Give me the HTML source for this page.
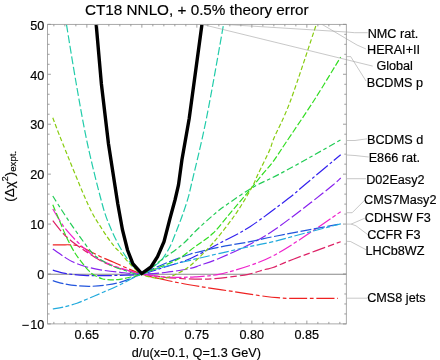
<!DOCTYPE html>
<html><head><meta charset="utf-8"><style>html,body{margin:0;padding:0;background:#fff;}body{width:440px;height:360px;position:relative;overflow:hidden;font-family:"Liberation Sans",sans-serif;}</style></head><body><svg width="440" height="360" viewBox="0 0 440 360" style="position:absolute;left:0;top:0;will-change:transform;opacity:0.999">
<defs><clipPath id="cp"><rect x="47.60" y="24.35" width="298.70" height="299.55"/></clipPath></defs>
<line x1="47.60" y1="274.15" x2="346.30" y2="274.15" stroke="#888" stroke-width="1.05"/>
<g clip-path="url(#cp)" fill="none" stroke-linecap="butt" stroke-linejoin="round">
<path d="M52.80,244.80 C54.33,244.80 59.08,244.80 62.00,244.80 C64.92,244.80 68.13,244.73 70.30,244.80 C72.47,244.87 73.33,244.95 75.00,245.20 C76.67,245.45 77.75,245.25 80.30,246.30 C82.85,247.35 86.68,249.67 90.30,251.50 C93.92,253.33 98.10,255.50 102.00,257.30 C105.90,259.10 107.08,259.52 113.70,262.30 C120.32,265.08 132.32,270.88 141.70,274.00 C151.08,277.12 160.28,278.92 170.00,281.00 C179.72,283.08 189.50,284.75 200.00,286.50 C210.50,288.25 222.00,289.83 233.00,291.50 C244.00,293.17 258.17,295.43 266.00,296.50 C273.83,297.57 276.50,297.60 280.00,297.90 C283.50,298.20 283.67,298.22 287.00,298.30 C290.33,298.38 291.50,298.38 300.00,298.40 C308.50,298.42 331.67,298.40 338.00,298.40" stroke="#ee2222" stroke-width="1.2" stroke-dasharray="18 2.7 3.8 2.7"/>
<path d="M52.80,220.70 C54.62,222.92 59.95,230.12 63.70,234.00 C67.45,237.88 71.13,240.80 75.30,244.00 C79.47,247.20 83.97,250.15 88.70,253.20 C93.43,256.25 98.48,259.75 103.70,262.30 C108.92,264.85 113.67,266.55 120.00,268.50 C126.33,270.45 135.03,272.63 141.70,274.00 C148.37,275.37 153.62,275.95 160.00,276.70 C166.38,277.45 173.33,278.08 180.00,278.50 C186.67,278.92 194.17,279.18 200.00,279.20 C205.83,279.22 210.00,278.97 215.00,278.60 C220.00,278.23 224.45,277.72 230.00,277.00 C235.55,276.28 242.47,275.55 248.30,274.30 C254.13,273.05 260.88,270.63 265.00,269.50 C269.12,268.37 268.28,269.22 273.00,267.50 C277.72,265.78 282.02,263.50 293.30,259.20 C304.58,254.90 332.80,244.62 340.70,241.70" stroke="#dd2266" stroke-width="1.2" stroke-dasharray="13 3 6.6 3"/>
<path d="M52.80,209.00 C54.62,211.92 59.95,221.37 63.70,226.50 C67.45,231.63 71.42,235.77 75.30,239.80 C79.18,243.83 83.38,247.63 87.00,250.70 C90.62,253.77 93.95,256.27 97.00,258.20 C100.05,260.13 101.47,260.67 105.30,262.30 C109.13,263.93 113.93,266.05 120.00,268.00 C126.07,269.95 135.03,272.58 141.70,274.00 C148.37,275.42 154.12,275.95 160.00,276.50 C165.88,277.05 171.17,277.25 177.00,277.30 C182.83,277.35 188.03,277.30 195.00,276.80 C201.97,276.30 209.63,276.18 218.80,274.30 C227.97,272.42 240.97,268.58 250.00,265.50 C259.03,262.42 264.67,260.13 273.00,255.80 C281.33,251.47 288.72,246.85 300.00,239.50 C311.28,232.15 333.92,216.33 340.70,211.70" stroke="#ee22cc" stroke-width="1.2" stroke-dasharray="14.5 2.5 3.8 2.5"/>
<path d="M52.80,249.00 C54.62,250.25 60.50,254.42 63.70,256.50 C66.90,258.58 68.40,259.83 72.00,261.50 C75.60,263.17 80.58,265.12 85.30,266.50 C90.02,267.88 94.52,268.83 100.30,269.80 C106.08,270.77 113.10,271.60 120.00,272.30 C126.90,273.00 134.20,273.97 141.70,274.00 C149.20,274.03 156.95,273.42 165.00,272.50 C173.05,271.58 184.17,269.70 190.00,268.50 C195.83,267.30 195.00,267.05 200.00,265.30 C205.00,263.55 211.67,261.52 220.00,258.00 C228.33,254.48 241.17,248.73 250.00,244.20 C258.83,239.67 264.67,236.33 273.00,230.80 C281.33,225.27 293.13,216.13 300.00,211.00 C306.87,205.87 308.70,204.33 314.20,200.00 C319.70,195.67 328.58,188.67 333.00,185.00 C337.42,181.33 339.42,179.17 340.70,178.00" stroke="#8822ee" stroke-width="1.2" stroke-dasharray="11.5 2.8"/>
<path d="M52.80,270.20 C54.62,270.70 60.50,272.52 63.70,273.20 C66.90,273.88 68.67,273.95 72.00,274.30 C75.33,274.65 79.53,275.07 83.70,275.30 C87.87,275.53 90.95,275.70 97.00,275.70 C103.05,275.70 112.55,275.58 120.00,275.30 C127.45,275.02 134.20,275.38 141.70,274.00 C149.20,272.62 156.95,269.55 165.00,267.00 C173.05,264.45 180.83,262.70 190.00,258.70 C199.17,254.70 210.00,248.33 220.00,243.00 C230.00,237.67 238.62,234.10 250.00,226.70 C261.38,219.30 279.22,205.55 288.30,198.60 C297.38,191.65 295.77,192.32 304.50,185.00 C313.23,177.68 334.67,159.75 340.70,154.70" stroke="#3322ee" stroke-width="1.2" stroke-dasharray="14.5 2.5 3 2.5"/>
<path d="M52.80,280.70 C54.62,281.20 59.67,282.87 63.70,283.70 C67.73,284.53 72.57,285.27 77.00,285.70 C81.43,286.13 85.85,286.37 90.30,286.30 C94.75,286.23 98.75,285.97 103.70,285.30 C108.65,284.63 113.67,284.18 120.00,282.30 C126.33,280.42 134.20,277.13 141.70,274.00 C149.20,270.87 156.95,266.80 165.00,263.50 C173.05,260.20 184.17,256.17 190.00,254.20 C195.83,252.23 195.00,252.90 200.00,251.70 C205.00,250.50 211.67,248.67 220.00,247.00 C228.33,245.33 241.17,243.42 250.00,241.70 C258.83,239.98 264.67,238.40 273.00,236.70 C281.33,235.00 288.72,233.65 300.00,231.50 C311.28,229.35 333.92,225.08 340.70,223.80" stroke="#2255dd" stroke-width="1.2" stroke-dasharray="11 2.5"/>
<path d="M52.80,309.00 C54.62,308.67 59.67,307.97 63.70,307.00 C67.73,306.03 72.57,304.75 77.00,303.20 C81.43,301.65 85.85,299.57 90.30,297.70 C94.75,295.83 98.75,294.15 103.70,292.00 C108.65,289.85 113.67,287.80 120.00,284.80 C126.33,281.80 134.20,277.05 141.70,274.00 C149.20,270.95 156.95,268.78 165.00,266.50 C173.05,264.22 184.17,261.72 190.00,260.30 C195.83,258.88 195.00,259.17 200.00,258.00 C205.00,256.83 211.67,255.22 220.00,253.30 C228.33,251.38 241.17,248.43 250.00,246.50 C258.83,244.57 264.67,243.70 273.00,241.70 C281.33,239.70 288.72,237.48 300.00,234.50 C311.28,231.52 333.92,225.58 340.70,223.80" stroke="#22aadd" stroke-width="1.2" stroke-dasharray="10.5 2.5 4 2.5"/>
<path d="M66.50,24.70 C68.13,34.58 72.80,64.12 76.30,84.00 C79.80,103.88 83.18,124.00 87.50,144.00 C91.82,164.00 98.40,190.12 102.20,204.00 C106.00,217.88 107.33,220.08 110.30,227.30 C113.27,234.52 117.00,241.85 120.00,247.30 C123.00,252.75 125.80,256.47 128.30,260.00 C130.80,263.53 132.77,266.17 135.00,268.50 C137.23,270.83 139.20,273.92 141.70,274.00 C144.20,274.08 147.62,270.53 150.00,269.00 C152.38,267.47 154.05,266.30 156.00,264.80 C157.95,263.30 159.95,262.00 161.70,260.00 C163.45,258.00 164.98,255.30 166.50,252.80 C168.02,250.30 168.97,249.08 170.80,245.00 C172.63,240.92 175.55,233.30 177.50,228.30 C179.45,223.30 180.83,219.72 182.50,215.00 C184.17,210.28 186.04,205.00 187.50,200.00 C188.96,195.00 188.10,198.57 191.25,185.00 C194.40,171.43 201.01,145.40 206.40,118.60 C211.79,91.80 220.73,39.93 223.60,24.20" stroke="#22ccaa" stroke-width="1.2" stroke-dasharray="8 2.7"/>
<path d="M52.80,196.00 C53.63,197.33 55.15,199.88 57.80,204.00 C60.45,208.12 64.95,215.15 68.70,220.70 C72.45,226.25 76.70,232.30 80.30,237.30 C83.90,242.30 87.52,247.37 90.30,250.70 C93.08,254.03 93.72,254.92 97.00,257.30 C100.28,259.68 105.33,262.80 110.00,265.00 C114.67,267.20 119.72,269.00 125.00,270.50 C130.28,272.00 135.87,275.58 141.70,274.00 C147.53,272.42 153.33,265.83 160.00,261.00 C166.67,256.17 175.58,250.17 181.70,245.00 C187.82,239.83 191.48,234.95 196.70,230.00 C201.92,225.05 208.28,219.32 213.00,215.30 C217.72,211.28 218.50,210.47 225.00,205.90 C231.50,201.33 243.00,193.17 252.00,187.90 C261.00,182.63 269.33,179.40 279.00,174.30 C288.67,169.20 299.72,163.05 310.00,157.30 C320.28,151.55 335.58,142.72 340.70,139.80" stroke="#22cc55" stroke-width="1.2" stroke-dasharray="6.7 2.8 3.7 2.8"/>
<path d="M52.80,204.80 C53.92,207.45 57.27,215.42 59.50,220.70 C61.73,225.98 63.70,231.23 66.20,236.50 C68.70,241.77 71.87,247.95 74.50,252.30 C77.13,256.65 79.63,259.53 82.00,262.60 C84.37,265.67 86.75,268.67 88.70,270.70 C90.65,272.73 91.48,273.47 93.70,274.80 C95.92,276.13 99.23,277.87 102.00,278.70 C104.77,279.53 107.30,279.70 110.30,279.80 C113.30,279.90 116.55,279.77 120.00,279.30 C123.45,278.83 127.38,277.88 131.00,277.00 C134.62,276.12 136.87,275.67 141.70,274.00 C146.53,272.33 153.90,269.50 160.00,267.00 C166.10,264.50 172.47,262.38 178.30,259.00 C184.13,255.62 189.22,250.98 195.00,246.70 C200.78,242.42 207.30,238.70 213.00,233.30 C218.70,227.90 224.28,220.08 229.20,214.30 C234.12,208.52 238.68,203.12 242.50,198.60 C246.32,194.08 248.80,191.22 252.10,187.20 C255.40,183.18 258.82,178.75 262.30,174.50 C265.78,170.25 269.12,166.95 273.00,161.70 C276.88,156.45 278.72,153.28 285.60,143.00 C292.48,132.72 305.12,114.33 314.30,100.00 C323.48,85.67 336.30,64.17 340.70,57.00" stroke="#33dd22" stroke-width="1.2" stroke-dasharray="6.5 2.3"/>
<path d="M52.80,117.80 C54.48,122.17 57.07,129.63 62.90,144.00 C68.73,158.37 81.28,189.83 87.80,204.00 C94.32,218.17 97.68,222.05 102.00,229.00 C106.32,235.95 110.70,241.82 113.70,245.70 C116.70,249.58 117.28,249.25 120.00,252.30 C122.72,255.35 126.38,260.38 130.00,264.00 C133.62,267.62 138.13,271.78 141.70,274.00 C145.27,276.22 147.75,276.58 151.40,277.30 C155.05,278.02 159.52,278.80 163.60,278.30 C167.68,277.80 171.33,276.52 175.90,274.30 C180.47,272.08 184.82,270.22 191.00,265.00 C197.18,259.78 205.60,251.45 213.00,243.00 C220.40,234.55 228.92,223.58 235.40,214.30 C241.88,205.02 248.12,194.02 251.90,187.30 C255.68,180.58 255.13,180.22 258.10,174.00 C261.07,167.78 267.02,156.08 269.70,150.00 C272.38,143.92 270.75,145.67 274.20,137.50 C277.65,129.33 283.38,119.83 290.40,101.00 C297.42,82.17 311.98,37.25 316.30,24.50" stroke="#88cc11" stroke-width="1.2" stroke-dasharray="4.5 2.4"/>
<path d="M96.20,24.70 L101.40,84.00 L108.50,144.00 L117.80,204.00 L122.50,230.00 L127.50,250.00 L133.00,264.00 L141.70,273.60 L151.00,267.00 L157.50,256.70 L164.00,241.70 L170.00,218.30 L175.00,200.00 L178.50,185.00 L181.90,160.00 L189.20,118.60 L201.90,24.70" stroke="#000" stroke-width="3.4" stroke-linejoin="miter"/>
</g>
<g stroke="#949494" stroke-width="0.8" fill="none">
<rect x="47.60" y="24.35" width="298.70" height="299.55"/>
</g>
<g stroke="#8c8c8c" stroke-width="0.85">
<line x1="53.85" y1="323.90" x2="53.85" y2="321.90"/>
<line x1="53.85" y1="24.35" x2="53.85" y2="26.35"/>
<line x1="64.85" y1="323.90" x2="64.85" y2="321.90"/>
<line x1="64.85" y1="24.35" x2="64.85" y2="26.35"/>
<line x1="75.85" y1="323.90" x2="75.85" y2="321.90"/>
<line x1="75.85" y1="24.35" x2="75.85" y2="26.35"/>
<line x1="86.85" y1="323.90" x2="86.85" y2="320.60"/>
<line x1="86.85" y1="24.35" x2="86.85" y2="27.65"/>
<line x1="97.85" y1="323.90" x2="97.85" y2="321.90"/>
<line x1="97.85" y1="24.35" x2="97.85" y2="26.35"/>
<line x1="108.85" y1="323.90" x2="108.85" y2="321.90"/>
<line x1="108.85" y1="24.35" x2="108.85" y2="26.35"/>
<line x1="119.85" y1="323.90" x2="119.85" y2="321.90"/>
<line x1="119.85" y1="24.35" x2="119.85" y2="26.35"/>
<line x1="130.85" y1="323.90" x2="130.85" y2="321.90"/>
<line x1="130.85" y1="24.35" x2="130.85" y2="26.35"/>
<line x1="141.85" y1="323.90" x2="141.85" y2="320.60"/>
<line x1="141.85" y1="24.35" x2="141.85" y2="27.65"/>
<line x1="152.85" y1="323.90" x2="152.85" y2="321.90"/>
<line x1="152.85" y1="24.35" x2="152.85" y2="26.35"/>
<line x1="163.85" y1="323.90" x2="163.85" y2="321.90"/>
<line x1="163.85" y1="24.35" x2="163.85" y2="26.35"/>
<line x1="174.85" y1="323.90" x2="174.85" y2="321.90"/>
<line x1="174.85" y1="24.35" x2="174.85" y2="26.35"/>
<line x1="185.85" y1="323.90" x2="185.85" y2="321.90"/>
<line x1="185.85" y1="24.35" x2="185.85" y2="26.35"/>
<line x1="196.85" y1="323.90" x2="196.85" y2="320.60"/>
<line x1="196.85" y1="24.35" x2="196.85" y2="27.65"/>
<line x1="207.85" y1="323.90" x2="207.85" y2="321.90"/>
<line x1="207.85" y1="24.35" x2="207.85" y2="26.35"/>
<line x1="218.85" y1="323.90" x2="218.85" y2="321.90"/>
<line x1="218.85" y1="24.35" x2="218.85" y2="26.35"/>
<line x1="229.85" y1="323.90" x2="229.85" y2="321.90"/>
<line x1="229.85" y1="24.35" x2="229.85" y2="26.35"/>
<line x1="240.85" y1="323.90" x2="240.85" y2="321.90"/>
<line x1="240.85" y1="24.35" x2="240.85" y2="26.35"/>
<line x1="251.85" y1="323.90" x2="251.85" y2="320.60"/>
<line x1="251.85" y1="24.35" x2="251.85" y2="27.65"/>
<line x1="262.85" y1="323.90" x2="262.85" y2="321.90"/>
<line x1="262.85" y1="24.35" x2="262.85" y2="26.35"/>
<line x1="273.85" y1="323.90" x2="273.85" y2="321.90"/>
<line x1="273.85" y1="24.35" x2="273.85" y2="26.35"/>
<line x1="284.85" y1="323.90" x2="284.85" y2="321.90"/>
<line x1="284.85" y1="24.35" x2="284.85" y2="26.35"/>
<line x1="295.85" y1="323.90" x2="295.85" y2="321.90"/>
<line x1="295.85" y1="24.35" x2="295.85" y2="26.35"/>
<line x1="306.85" y1="323.90" x2="306.85" y2="320.60"/>
<line x1="306.85" y1="24.35" x2="306.85" y2="27.65"/>
<line x1="317.85" y1="323.90" x2="317.85" y2="321.90"/>
<line x1="317.85" y1="24.35" x2="317.85" y2="26.35"/>
<line x1="328.85" y1="323.90" x2="328.85" y2="321.90"/>
<line x1="328.85" y1="24.35" x2="328.85" y2="26.35"/>
<line x1="339.85" y1="323.90" x2="339.85" y2="321.90"/>
<line x1="339.85" y1="24.35" x2="339.85" y2="26.35"/>
<line x1="47.60" y1="323.93" x2="50.90" y2="323.93"/>
<line x1="346.30" y1="323.93" x2="343.00" y2="323.93"/>
<line x1="47.60" y1="313.94" x2="49.60" y2="313.94"/>
<line x1="346.30" y1="313.94" x2="344.30" y2="313.94"/>
<line x1="47.60" y1="303.96" x2="49.60" y2="303.96"/>
<line x1="346.30" y1="303.96" x2="344.30" y2="303.96"/>
<line x1="47.60" y1="293.97" x2="49.60" y2="293.97"/>
<line x1="346.30" y1="293.97" x2="344.30" y2="293.97"/>
<line x1="47.60" y1="283.99" x2="49.60" y2="283.99"/>
<line x1="346.30" y1="283.99" x2="344.30" y2="283.99"/>
<line x1="47.60" y1="274.00" x2="50.90" y2="274.00"/>
<line x1="346.30" y1="274.00" x2="343.00" y2="274.00"/>
<line x1="47.60" y1="264.01" x2="49.60" y2="264.01"/>
<line x1="346.30" y1="264.01" x2="344.30" y2="264.01"/>
<line x1="47.60" y1="254.03" x2="49.60" y2="254.03"/>
<line x1="346.30" y1="254.03" x2="344.30" y2="254.03"/>
<line x1="47.60" y1="244.04" x2="49.60" y2="244.04"/>
<line x1="346.30" y1="244.04" x2="344.30" y2="244.04"/>
<line x1="47.60" y1="234.06" x2="49.60" y2="234.06"/>
<line x1="346.30" y1="234.06" x2="344.30" y2="234.06"/>
<line x1="47.60" y1="224.07" x2="50.90" y2="224.07"/>
<line x1="346.30" y1="224.07" x2="343.00" y2="224.07"/>
<line x1="47.60" y1="214.08" x2="49.60" y2="214.08"/>
<line x1="346.30" y1="214.08" x2="344.30" y2="214.08"/>
<line x1="47.60" y1="204.10" x2="49.60" y2="204.10"/>
<line x1="346.30" y1="204.10" x2="344.30" y2="204.10"/>
<line x1="47.60" y1="194.11" x2="49.60" y2="194.11"/>
<line x1="346.30" y1="194.11" x2="344.30" y2="194.11"/>
<line x1="47.60" y1="184.13" x2="49.60" y2="184.13"/>
<line x1="346.30" y1="184.13" x2="344.30" y2="184.13"/>
<line x1="47.60" y1="174.14" x2="50.90" y2="174.14"/>
<line x1="346.30" y1="174.14" x2="343.00" y2="174.14"/>
<line x1="47.60" y1="164.15" x2="49.60" y2="164.15"/>
<line x1="346.30" y1="164.15" x2="344.30" y2="164.15"/>
<line x1="47.60" y1="154.17" x2="49.60" y2="154.17"/>
<line x1="346.30" y1="154.17" x2="344.30" y2="154.17"/>
<line x1="47.60" y1="144.18" x2="49.60" y2="144.18"/>
<line x1="346.30" y1="144.18" x2="344.30" y2="144.18"/>
<line x1="47.60" y1="134.20" x2="49.60" y2="134.20"/>
<line x1="346.30" y1="134.20" x2="344.30" y2="134.20"/>
<line x1="47.60" y1="124.21" x2="50.90" y2="124.21"/>
<line x1="346.30" y1="124.21" x2="343.00" y2="124.21"/>
<line x1="47.60" y1="114.22" x2="49.60" y2="114.22"/>
<line x1="346.30" y1="114.22" x2="344.30" y2="114.22"/>
<line x1="47.60" y1="104.24" x2="49.60" y2="104.24"/>
<line x1="346.30" y1="104.24" x2="344.30" y2="104.24"/>
<line x1="47.60" y1="94.25" x2="49.60" y2="94.25"/>
<line x1="346.30" y1="94.25" x2="344.30" y2="94.25"/>
<line x1="47.60" y1="84.27" x2="49.60" y2="84.27"/>
<line x1="346.30" y1="84.27" x2="344.30" y2="84.27"/>
<line x1="47.60" y1="74.28" x2="50.90" y2="74.28"/>
<line x1="346.30" y1="74.28" x2="343.00" y2="74.28"/>
<line x1="47.60" y1="64.29" x2="49.60" y2="64.29"/>
<line x1="346.30" y1="64.29" x2="344.30" y2="64.29"/>
<line x1="47.60" y1="54.31" x2="49.60" y2="54.31"/>
<line x1="346.30" y1="54.31" x2="344.30" y2="54.31"/>
<line x1="47.60" y1="44.32" x2="49.60" y2="44.32"/>
<line x1="346.30" y1="44.32" x2="344.30" y2="44.32"/>
<line x1="47.60" y1="34.34" x2="49.60" y2="34.34"/>
<line x1="346.30" y1="34.34" x2="344.30" y2="34.34"/>
<line x1="47.60" y1="24.35" x2="50.90" y2="24.35"/>
<line x1="346.30" y1="24.35" x2="343.00" y2="24.35"/>
</g>
<g stroke="#a2a2a2" stroke-width="0.6" fill="none">
<path d="M223.60,24.35 L346.60,32.00 L354.50,32.70 L367.70,32.70"/>
<path d="M322.00,24.35 L346.60,38.90 L357.00,45.00 L366.00,49.00"/>
<path d="M202.00,24.35 L372.70,66.10"/>
<path d="M346.60,56.60 L350.70,56.60 L366.00,81.00"/>
<path d="M347.00,140.50 L355.00,140.50 L367.00,138.80"/>
<path d="M347.00,155.00 L355.00,155.50 L368.70,157.00"/>
<path d="M347.00,178.70 L366.00,178.70"/>
<path d="M347.00,212.70 L352.20,212.70 L364.80,200.00"/>
<path d="M347.00,224.10 L351.20,224.10 L364.80,218.20"/>
<path d="M351.20,224.10 L356.00,225.80 L367.20,234.20"/>
<path d="M347.00,241.30 L350.50,241.50 L366.00,249.70"/>
<path d="M347.00,298.20 L367.00,298.20"/>
</g>
<g font-family="Liberation Sans, sans-serif" fill="#000" stroke="#000" stroke-width="0.18">
<rect x="22.3" y="324.83" width="6.5" height="1" stroke="none"/>
<text x="44.3" y="329.18" font-size="12.65" text-anchor="end">10</text>
<text x="44.3" y="279.25" font-size="12.65" text-anchor="end">0</text>
<text x="44.3" y="229.32" font-size="12.65" text-anchor="end">10</text>
<text x="44.3" y="179.39" font-size="12.65" text-anchor="end">20</text>
<text x="44.3" y="129.46" font-size="12.65" text-anchor="end">30</text>
<text x="44.3" y="79.53" font-size="12.65" text-anchor="end">40</text>
<text x="44.3" y="29.60" font-size="12.65" text-anchor="end">50</text>
<text x="86.85" y="338.8" font-size="12.65" text-anchor="middle">0.65</text>
<text x="141.85" y="338.8" font-size="12.65" text-anchor="middle">0.70</text>
<text x="196.85" y="338.8" font-size="12.65" text-anchor="middle">0.75</text>
<text x="251.85" y="338.8" font-size="12.65" text-anchor="middle">0.80</text>
<text x="306.85" y="338.8" font-size="12.65" text-anchor="middle">0.85</text>
<text x="196.8" y="14.5" font-size="15.27" text-anchor="middle">CT18 NNLO, + 0.5% theory error</text>
<text x="196.4" y="356.5" font-size="12.65" text-anchor="middle" textLength="129.3">d/u(x=0.1, Q=1.3 GeV)</text>
<text transform="translate(13.6,176.3) rotate(-90)" font-size="13.4" text-anchor="middle">(Δχ<tspan font-size="9" dy="-5.2">2</tspan><tspan dy="5.2">)</tspan><tspan font-size="9.6" dy="2.4">expt.</tspan></text>
<text x="367.70" y="38.10" font-size="12.65">NMC rat.</text>
<text x="367.00" y="54.20" font-size="12.65">HERAI+II</text>
<text x="376.40" y="70.40" font-size="12.65">Global</text>
<text x="366.80" y="87.40" font-size="12.65">BCDMS p</text>
<text x="367.00" y="144.10" font-size="12.65">BCDMS d</text>
<text x="368.70" y="161.60" font-size="12.65">E866 rat.</text>
<text x="366.20" y="183.60" font-size="12.65">D02Easy2</text>
<text x="364.10" y="204.30" font-size="12.65">CMS7Masy2</text>
<text x="364.80" y="221.80" font-size="12.65">CDHSW F3</text>
<text x="367.20" y="238.80" font-size="12.65">CCFR F3</text>
<text x="365.50" y="255.30" font-size="12.65">LHCb8WZ</text>
<text x="367.20" y="302.40" font-size="12.65">CMS8 jets</text>
</g>
</svg></body></html>
